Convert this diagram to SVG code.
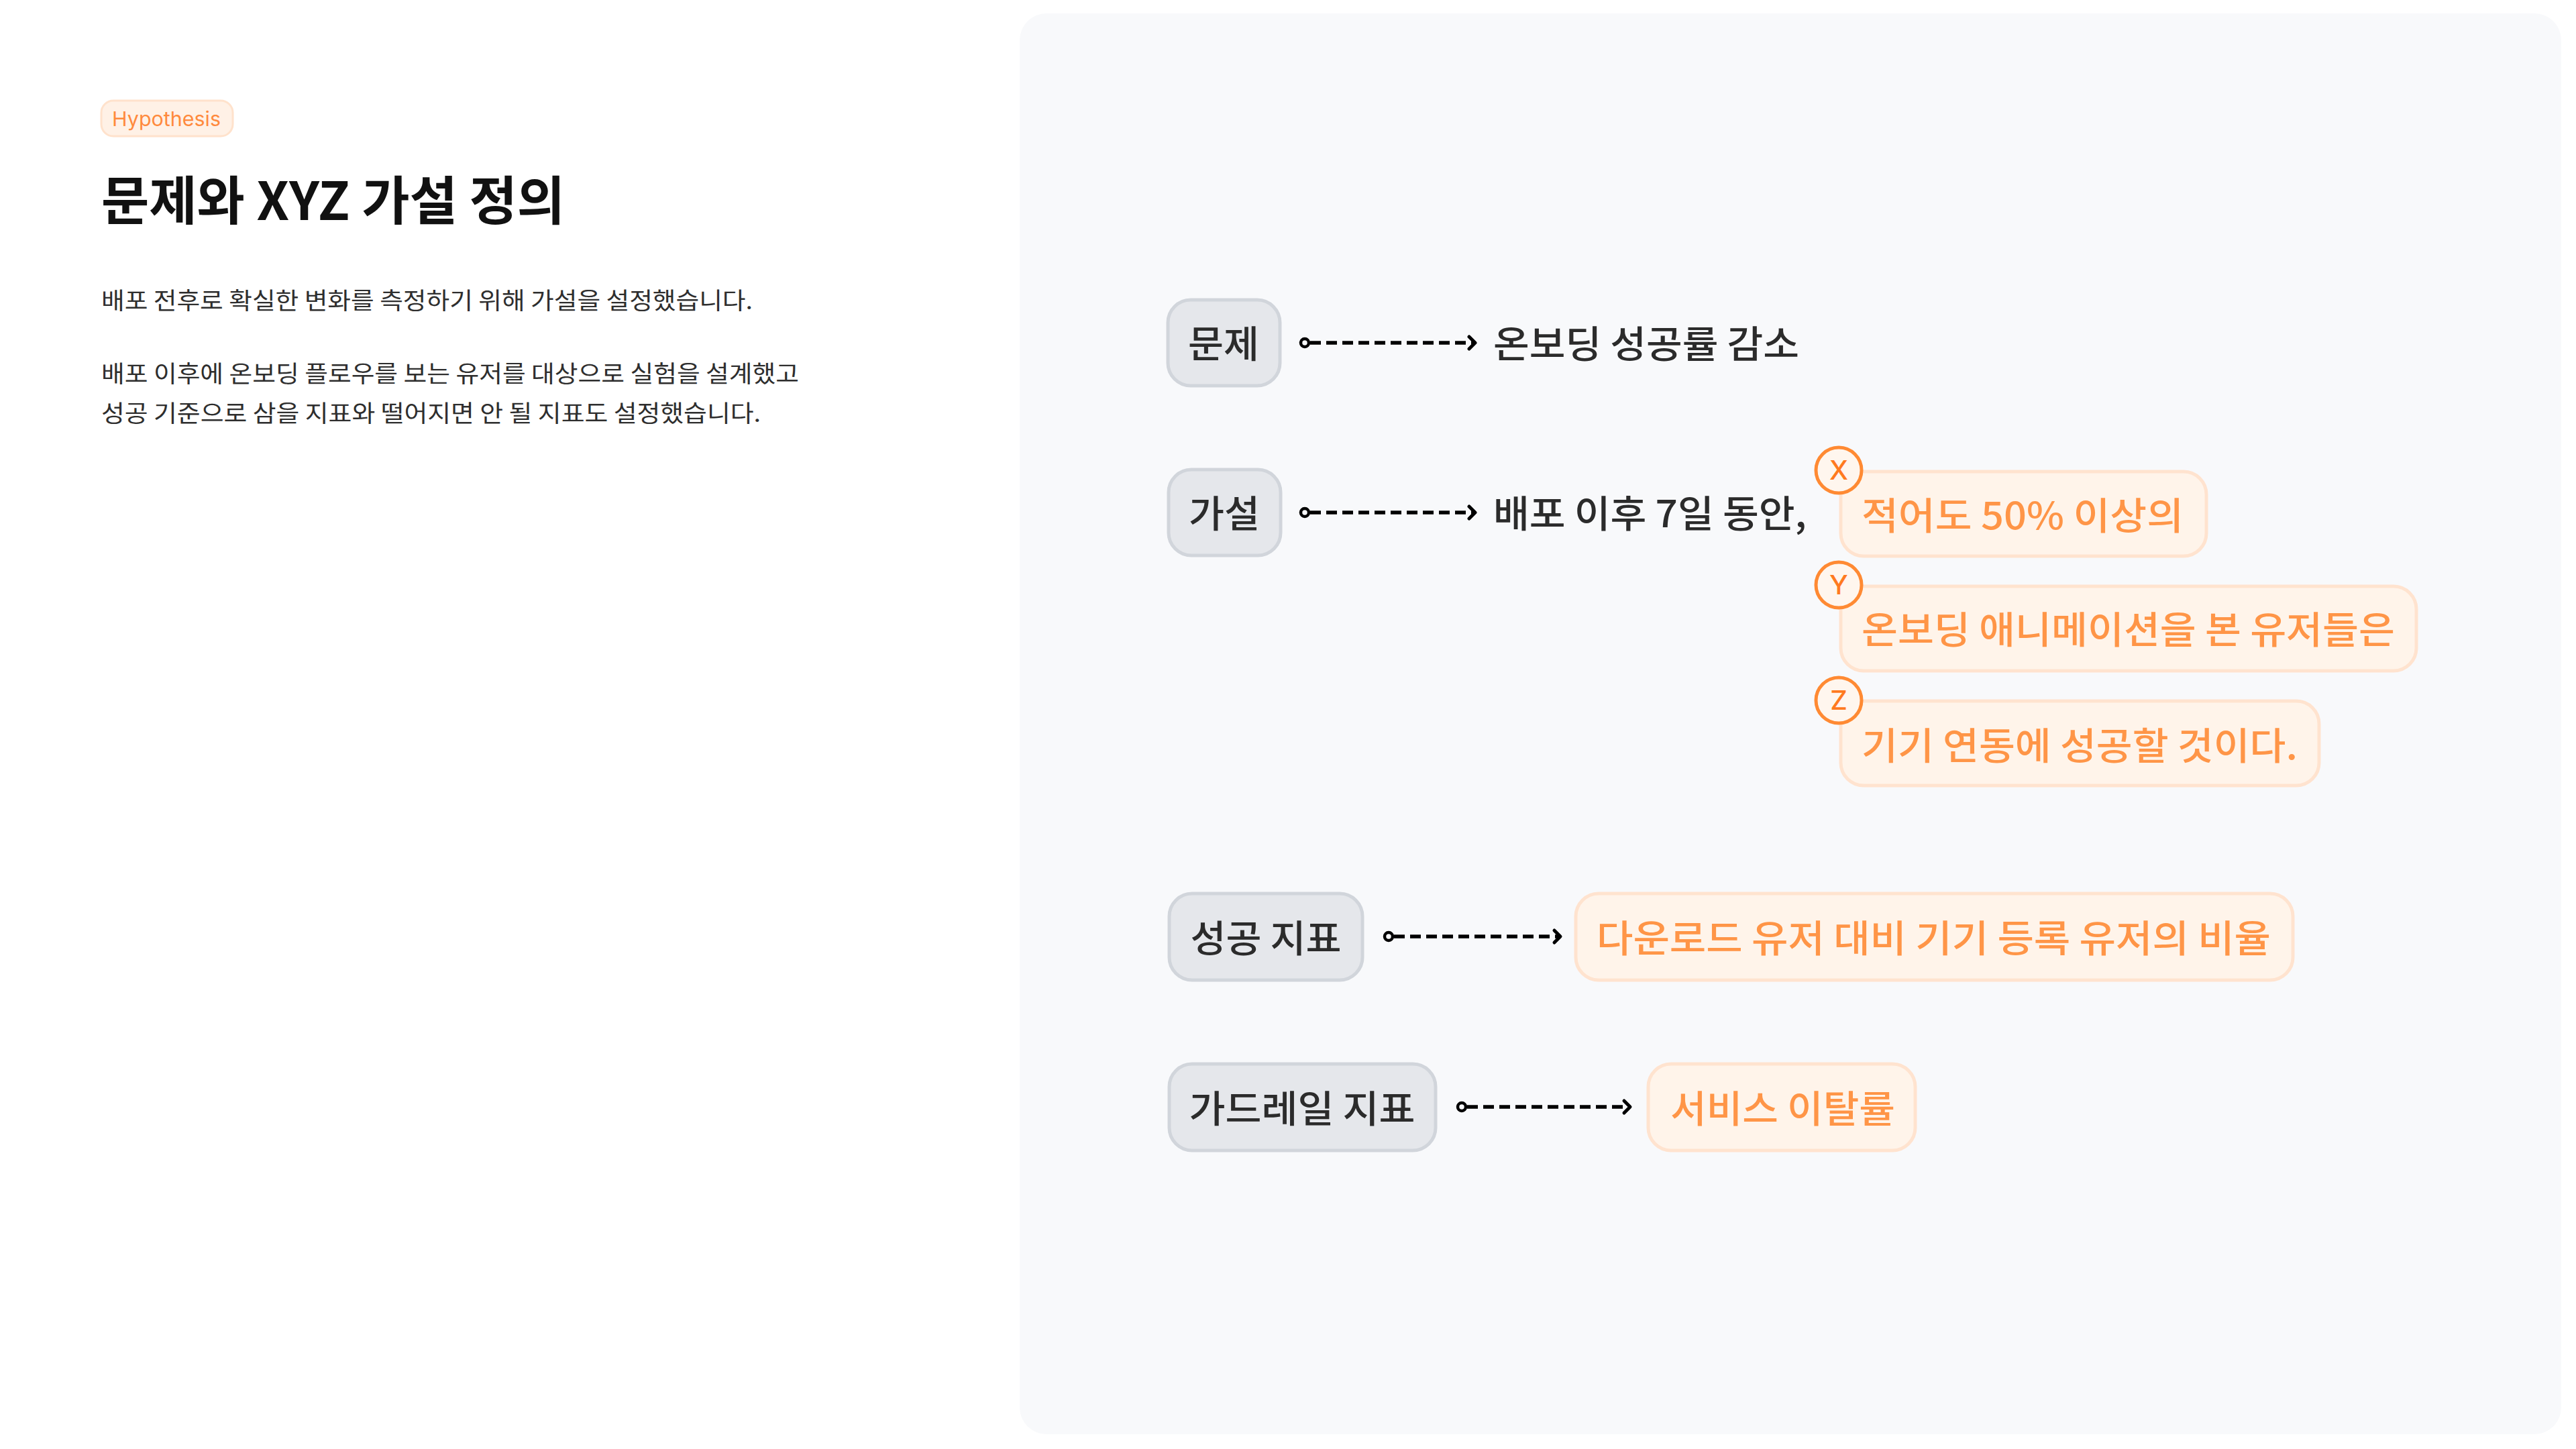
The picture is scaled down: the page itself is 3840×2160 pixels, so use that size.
<svg xmlns="http://www.w3.org/2000/svg" width="3840" height="2160" viewBox="0 0 3840 2160">
<style>
  .ko { font-family: "Noto Sans CJK KR", "Noto Sans", sans-serif; }
  .node rect { fill: #E5E7EB; stroke: #D1D5DB; stroke-width: 5; }
  .node text { font-family: "Noto Sans CJK KR", "Noto Sans", sans-serif; font-size: 56px; font-weight: 500; fill: #2B2B2B; text-anchor: middle; }
  .res rect { fill: #FFF4EA; stroke: #FFE3CF; stroke-width: 5; }
  .res text { font-family: "Noto Sans CJK KR", "Noto Sans", sans-serif; font-size: 56px; font-weight: 500; fill: #FF9547; }
  .plain text { font-family: "Noto Sans CJK KR", "Noto Sans", sans-serif; font-size: 56px; font-weight: 500; fill: #2B2B2B; }
  .badge circle { fill: #FFF6EE; stroke: #FF8A33; stroke-width: 5; }
  .badge text { font-family: "Inter", "Noto Sans", sans-serif; font-size: 40px; font-weight: 500; fill: #FF7A1F; text-anchor: middle; }
  .conn line { stroke: #000; stroke-width: 5.5; stroke-dasharray: 16 8; }
  .conn circle { fill: #F8F9FB; stroke: #000; stroke-width: 4.5; }
  .conn path { fill: none; stroke: #000; stroke-width: 5; stroke-linecap: round; stroke-linejoin: round; }
  .body { font-family: "Noto Sans CJK KR", "Noto Sans", sans-serif; font-size: 35px; fill: #2E2E2E; }
</style>
<rect x="0" y="0" width="3840" height="2160" fill="#FFFFFF"/>
<rect id="panel" x="1520" y="20" width="2298" height="2118" rx="40" fill="#F8F9FB"/>

<g id="tag">
  <rect x="151" y="150" width="196" height="53" rx="18" fill="#FFF1E6" stroke="#FFE2CC" stroke-width="3"/>
  <text x="167" y="188" font-family="Inter, 'Noto Sans', sans-serif" font-size="30" fill="#FF8A3D" textLength="162" lengthAdjust="spacingAndGlyphs">Hypothesis</text>
</g>
<text id="title" class="ko" x="151" y="328" font-size="78" font-weight="700" fill="#111111" textLength="691" lengthAdjust="spacingAndGlyphs">문제와 XYZ 가설 정의</text>
<g id="desc">
  <text class="body" x="151" y="461" textLength="971" lengthAdjust="spacingAndGlyphs">배포 전후로 확실한 변화를 측정하기 위해 가설을 설정했습니다.</text>
  <text class="body" x="151" y="570" textLength="1040" lengthAdjust="spacingAndGlyphs">배포 이후에 온보딩 플로우를 보는 유저를 대상으로 실험을 설계했고</text>
  <text class="body" x="151" y="629" textLength="983" lengthAdjust="spacingAndGlyphs">성공 기준으로 삼을 지표와 떨어지면 안 될 지표도 설정했습니다.</text>
</g>

<g id="connectors" class="conn">
  <line x1="1953" y1="511" x2="2196" y2="511"/>
  <circle cx="1945" cy="511" r="6"/>
  <path d="M2190 502 L2199 511 L2190 520"/>
  <line x1="1953" y1="764" x2="2196" y2="764"/>
  <circle cx="1945" cy="764" r="6"/>
  <path d="M2190 755 L2199 764 L2190 773"/>
  <line x1="2078" y1="1396" x2="2323" y2="1396"/>
  <circle cx="2070" cy="1396" r="6"/>
  <path d="M2317 1387 L2326 1396 L2317 1405"/>
  <line x1="2187" y1="1650" x2="2427" y2="1650"/>
  <circle cx="2179" cy="1650" r="6"/>
  <path d="M2421 1641 L2430 1650 L2421 1659"/>
</g>

<g id="node-problem" class="node">
  <rect x="1741" y="447" width="167" height="128" rx="34"/>
  <text x="1824" y="533" textLength="106" lengthAdjust="spacingAndGlyphs">문제</text>
</g>
<g id="text-problem" class="plain">
  <text x="2226" y="533" textLength="456" lengthAdjust="spacingAndGlyphs">온보딩 성공률 감소</text>
</g>

<g id="node-hypothesis" class="node">
  <rect x="1742" y="700" width="167" height="128" rx="34"/>
  <text x="1825" y="786" textLength="106" lengthAdjust="spacingAndGlyphs">가설</text>
</g>
<g id="text-hypothesis" class="plain">
  <text x="2226" y="786" textLength="467" lengthAdjust="spacingAndGlyphs">배포 이후 7일 동안,</text>
</g>

<g id="hyp-x" class="res">
  <rect x="2744" y="703" width="545" height="126" rx="34"/>
  <text x="2775" y="789" textLength="480" lengthAdjust="spacingAndGlyphs">적어도 50% 이상의</text>
</g>
<g id="badge-x" class="badge">
  <circle cx="2741" cy="701" r="34"/>
  <text x="2741" y="715">X</text>
</g>

<g id="hyp-y" class="res">
  <rect x="2744" y="874" width="858" height="126" rx="34"/>
  <text x="2775" y="959" textLength="795" lengthAdjust="spacingAndGlyphs">온보딩 애니메이션을 본 유저들은</text>
</g>
<g id="badge-y" class="badge">
  <circle cx="2741" cy="872" r="34"/>
  <text x="2741" y="886">Y</text>
</g>

<g id="hyp-z" class="res">
  <rect x="2744" y="1045" width="713" height="126" rx="34"/>
  <text x="2775" y="1132" textLength="650" lengthAdjust="spacingAndGlyphs">기기 연동에 성공할 것이다.</text>
</g>
<g id="badge-z" class="badge">
  <circle cx="2741" cy="1044" r="34"/>
  <text x="2741" y="1058">Z</text>
</g>

<g id="node-success" class="node">
  <rect x="1743" y="1332" width="288" height="129" rx="34"/>
  <text x="1887" y="1419" textLength="225" lengthAdjust="spacingAndGlyphs">성공 지표</text>
</g>
<g id="res-success" class="res">
  <rect x="2349" y="1332" width="1069" height="129" rx="34"/>
  <text x="2380" y="1419" textLength="1005" lengthAdjust="spacingAndGlyphs">다운로드 유저 대비 기기 등록 유저의 비율</text>
</g>

<g id="node-guardrail" class="node">
  <rect x="1743" y="1586" width="397" height="129" rx="34"/>
  <text x="1941" y="1673" textLength="337" lengthAdjust="spacingAndGlyphs">가드레일 지표</text>
</g>
<g id="res-guardrail" class="res">
  <rect x="2457" y="1586" width="398" height="129" rx="34"/>
  <text x="2490" y="1673" textLength="335" lengthAdjust="spacingAndGlyphs">서비스 이탈률</text>
</g>
</svg>
